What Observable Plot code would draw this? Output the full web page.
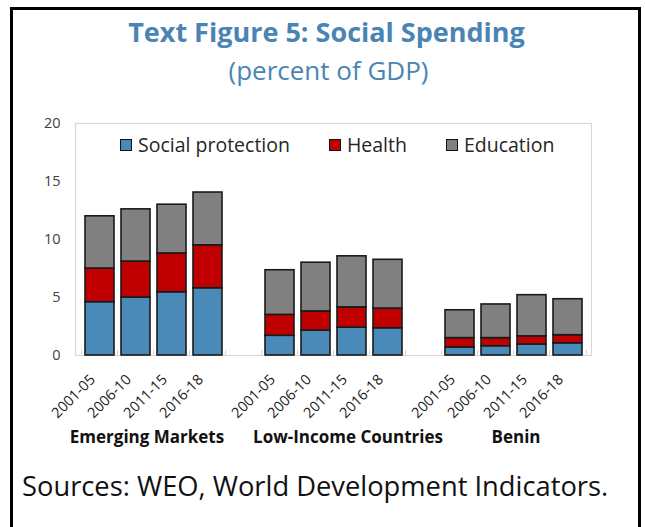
<!DOCTYPE html>
<html>
<head>
<meta charset="utf-8">
<script src="https://cdn.jsdelivr.net/npm/d3@7"></script>
<script src="https://cdn.jsdelivr.net/npm/@observablehq/plot@0.6"></script>
<style>
  html, body { margin: 0; padding: 0; background: #fff; }
  body { width: 645px; height: 527px; position: relative; overflow: hidden; font-family: "Open Sans", sans-serif; }
  #frame { position: absolute; left: 10px; top: 7px; width: 625px; height: 540px; border: 3px solid #000; box-sizing: content-box; }
  #title { position: absolute; left: 4px; width: 645px; top: 14px; text-align: center; font-weight: 700; font-size: 27px; line-height: 36px; color: #4a84b4; }
  #subtitle { position: absolute; left: 6px; width: 645px; top: 53px; text-align: center; font-weight: 400; font-size: 26px; line-height: 34px; color: #4a84b4; }
  #chart { position: absolute; left: 0; top: 0; }
  #legend { position: absolute; left: 120px; top: 132px; display: flex; gap: 39px; font-size: 19.5px; color: #262626; line-height: 26px; }
  #legend .item { display: flex; align-items: center; }
  #legend .sw { width: 10px; height: 10px; border: 1.5px solid #111; margin-right: 6px; }
  #caption { position: absolute; left: 22px; top: 468px; font-size: 27.3px; line-height: 36px; color: #111; white-space: nowrap; }
</style>
</head>
<body>
<div id="frame"></div>
<div id="chart"></div>
<div id="title">Text Figure 5: Social Spending</div>
<div id="subtitle">(percent of GDP)</div>
<div id="legend"></div>
<div id="caption">Sources: WEO, World Development Indicators.</div>
<script>
const groups = ["Emerging Markets", "Low-Income Countries", "Benin"];
const periods = ["2001-05", "2006-10", "2011-15", "2016-18"];
const seriesNames = ["Social protection", "Health", "Education"];
const seriesColors = ["#4a8ab8", "#c00000", "#808080"];
// values per group, per period
const socialProtection = [[4.6, 5.0, 5.45, 5.8], [1.7, 2.15, 2.4, 2.35], [0.7, 0.8, 0.95, 1.05]];
const health = [[2.9, 3.1, 3.35, 3.7], [1.8, 1.65, 1.75, 1.7], [0.8, 0.7, 0.7, 0.7]];
const education = [[4.5, 4.5, 4.2, 4.55], [3.85, 4.2, 4.4, 4.2], [2.4, 2.9, 3.55, 3.1]];
const yTicks = [0, 5, 10, 15, 20];

const seriesValues = [socialProtection, health, education];

// band domain with a spacer slot between groups
const domain = [];
const barKeys = [];
groups.forEach((g, gi) => {
  periods.forEach(p => { const k = g + "|" + p; domain.push(k); barKeys.push({key: k, period: p, group: g}); });
  if (gi < groups.length - 1) domain.push("spacer" + gi);
});

const rows = [];
groups.forEach((g, gi) => {
  periods.forEach((p, pi) => {
    seriesNames.forEach((s, si) => {
      rows.push({key: g + "|" + p, series: s, value: seriesValues[si][gi][pi]});
    });
  });
});

const W = 645, H = 460;
const mL = 75, mR = 54, mT = 123, mB = 105;
const step = (W - mL - mR) / domain.length;

const groupLabelKeys = groups.map(g => ({key: g + "|" + periods[1], label: g}));

const plot = Plot.plot({
  width: W,
  height: H,
  marginLeft: mL,
  marginRight: mR,
  marginTop: mT,
  marginBottom: mB,
  style: {fontFamily: "'Open Sans', sans-serif", color: "#404040", background: "transparent"},
  x: {type: "band", domain, paddingInner: 0.2, paddingOuter: 0.1, axis: null},
  y: {domain: [0, 20], axis: null},
  color: {domain: seriesNames, range: seriesColors},
  marks: [
    Plot.frame({stroke: "#d9d9d9", strokeWidth: 1.2}),
    Plot.axisY({ticks: yTicks, label: null, tickSize: 0, tickPadding: 15, fontSize: 14.5, fill: "#404040"}),
    Plot.ruleX(domain, {x: d => d, y1: 0, y2: 0.45, dx: -step / 2, stroke: "#d9d9d9", strokeWidth: 1.2}),
    Plot.ruleX([domain[domain.length - 1]], {x: d => d, y1: 0, y2: 0.45, dx: step / 2, stroke: "#d9d9d9", strokeWidth: 1.2}),
    Plot.barY(rows, {x: "key", y: "value", fill: "series", stroke: "#1a1a1a", strokeWidth: 1.6}),
    Plot.text(barKeys, {x: "key", text: "period", frameAnchor: "bottom", rotate: -45, textAnchor: "end", dx: -4, dy: 25, fontSize: 14.5, fill: "#1a1a1a"}),
    Plot.text([groupLabelKeys[0]], {x: "key", text: "label", frameAnchor: "bottom", dy: 87, dx: 11, fontSize: 17, fontWeight: 700, fill: "#111"}),
    Plot.text([groupLabelKeys[1]], {x: "key", text: "label", frameAnchor: "bottom", dy: 87, dx: 32, fontSize: 17, fontWeight: 700, fill: "#111"}),
    Plot.text([groupLabelKeys[2]], {x: "key", text: "label", frameAnchor: "bottom", dy: 87, dx: 20, fontSize: 17, fontWeight: 700, fill: "#111"})
  ]
});
document.getElementById("chart").appendChild(plot);

const legend = document.getElementById("legend");
seriesNames.forEach((s, i) => {
  const item = document.createElement("div");
  item.className = "item";
  const sw = document.createElement("div");
  sw.className = "sw";
  sw.style.background = seriesColors[i];
  const t = document.createElement("span");
  t.textContent = s;
  item.appendChild(sw);
  item.appendChild(t);
  legend.appendChild(item);
});
</script>
</body>
</html>
